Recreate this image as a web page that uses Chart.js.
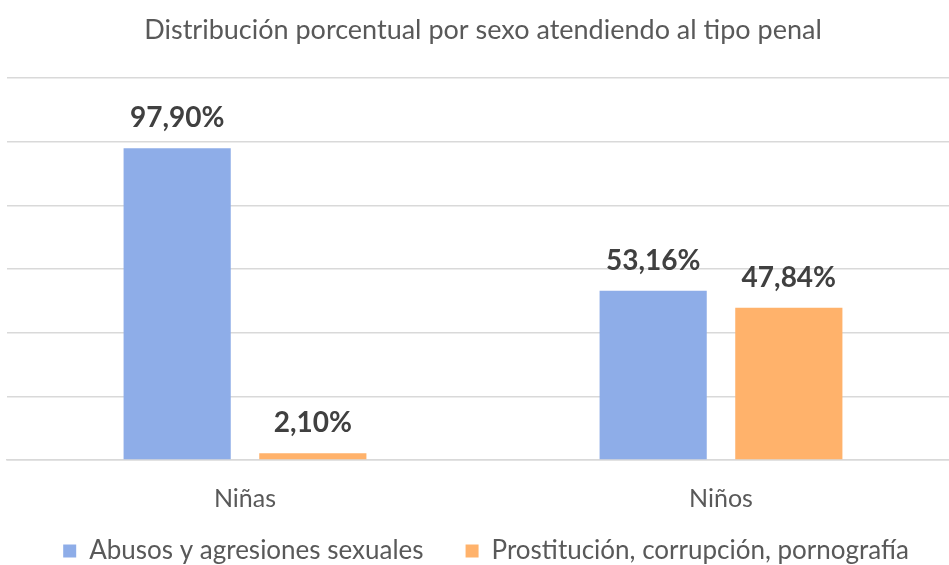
<!DOCTYPE html>
<html>
<head>
<meta charset="utf-8">
<script src="https://cdn.jsdelivr.net/npm/chart.js@4"></script>
<style>
    html, body { margin: 0; padding: 0; background: #fff; overflow: hidden; }
    #wrap { width: 966px; height: 565px; }
</style>
</head>
<body>
<div id="wrap"><canvas id="penalChart"></canvas></div>
<script>
const categories = ["Niñas", "Niños"];
const seriesNames = ["Abusos y agresiones sexuales", "Prostitución, corrupción, pornografía"];
const abusos = [97.90, 53.16];
const prostitucion = [2.10, 47.84];
const yTicks = [0, 20, 40, 60, 80, 100, 120];

const fontName = "Lato, sans-serif";

// draws the percentage above each bar
const valueLabels = {
    id: "valueLabels",
    afterDatasetsDraw(chart) {
        const ctx = chart.ctx;
        ctx.save();
        ctx.font = "bold 28px " + fontName;
        ctx.fillStyle = "#404040";
        ctx.textAlign = "center";
        ctx.textBaseline = "alphabetic";
        chart.data.datasets.forEach((ds, i) => {
            chart.getDatasetMeta(i).data.forEach((bar, j) => {
                const txt = ds.data[j].toFixed(2).replace(".", ",") + "%";
                ctx.fillText(txt, bar.x, bar.y - 21);
            });
        });
        ctx.restore();
    }
};

// the legend only reserves a thin strip in the layout,
// then its box is widened so the wide item gap fits
const legendShift = {
    id: "legendShift",
    afterLayout(chart) {
        const lg = chart.legend;
        lg.left += 3;
        lg.right += 3;
        lg.top = 496;
        lg.bottom = chart.height;
        lg.height = lg.bottom - lg.top;
    }
};

const ctx = document.getElementById("penalChart").getContext("2d");
const penalChart = new Chart(ctx, {
    type: "bar",
    data: {
        labels: categories,
        datasets: [{
            label: seriesNames[0],
            data: abusos,
            backgroundColor: "#8EADE8",
            categoryPercentage: 0.57,
            barPercentage: 0.79
        }, {
            label: seriesNames[1],
            data: prostitucion,
            backgroundColor: "#FFB26B",
            categoryPercentage: 0.57,
            barPercentage: 0.79
        }]
    },
    options: {
        responsive: true,
        maintainAspectRatio: false,
        animation: false,
        layout: { padding: { left: 7, right: 7, top: 0, bottom: 0 } },
        plugins: {
            title: {
                display: true,
                text: "Distribución porcentual por sexo atendiendo al tipo penal",
                color: "#595959",
                font: { family: fontName, size: 27, weight: "normal", lineHeight: 1.2 },
                padding: { top: 14, bottom: 31.6 }
            },
            legend: {
                position: "bottom",
                maxHeight: 50,
                labels: {
                    color: "#595959",
                    font: { family: fontName, size: 26 },
                    boxWidth: 13,
                    boxHeight: 13,
                    padding: 42
                }
            },
            tooltip: { enabled: false }
        },
        scales: {
            x: {
                grid: { display: false, drawTicks: false },
                border: { color: "#D9D9D9", width: 1.5 },
                ticks: {
                    color: "#595959",
                    font: { family: fontName, size: 25 },
                    padding: 24
                },
                afterFit: s => { s.height -= 23; }
            },
            y: {
                min: yTicks[0],
                max: yTicks[yTicks.length - 1],
                afterBuildTicks: axis => { axis.ticks = yTicks.map(v => ({ value: v })); },
                grid: { color: "#D9D9D9", lineWidth: 1.5, drawTicks: false },
                border: { display: false },
                ticks: { display: false }
            }
        }
    },
    plugins: [valueLabels, legendShift]
});
</script>
</body>
</html>
